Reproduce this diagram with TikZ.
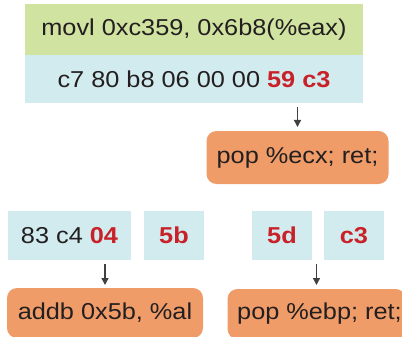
\documentclass[tikz,border=0pt]{standalone}
\usepackage{fontspec}
\setmainfont{Liberation Sans}[FakeStretch=1.1]
\usetikzlibrary{arrows.meta,calc}
\definecolor{boxgreen}{RGB}{209,227,160}
\definecolor{boxblue}{RGB}{210,235,239}
\definecolor{boxorange}{RGB}{240,156,104}
\definecolor{hired}{RGB}{200,34,40}
\definecolor{txt}{RGB}{35,31,32}
\definecolor{arrgray}{RGB}{64,64,64}
\tikzset{
  base/.style={inner sep=0pt, outer sep=0pt, text=txt, font=\fontsize{23}{27}\selectfont},
  greenbox/.style={base, fill=boxgreen},
  bluebox/.style={base, fill=boxblue},
  orangebox/.style={base, fill=boxorange, rounded corners=10pt},
  arr/.style={draw=arrgray, line width=1.4pt, -{Triangle[length=7pt,width=7pt]}},
}
\newcommand{\hl}[1]{\textbf{\textcolor{hired}{#1}}}
\begin{document}
\begin{tikzpicture}[x=1pt,y=-1pt]
\useasboundingbox (0,0) rectangle (402,337);
\node[greenbox, minimum width=338pt, minimum height=51pt] (movl) at (194,29.5) {movl 0xc359, 0x6b8(\%eax)};
\node[bluebox, minimum width=338pt, minimum height=48pt] (hex) at (194,79) {c7 80 b8 06 00 00 \hl{59 c3}};
\node[orangebox, minimum width=182pt, minimum height=53pt] (ecx) at (297.5,157.5) {pop \%ecx; ret;};
\node[bluebox, minimum width=123pt, minimum height=49pt] (b1) at (69.5,235.5) {83 c4 \hl{04}};
\node[bluebox, minimum width=60pt, minimum height=49pt] (b2) at (174,235.5) {\hl{5b}};
\node[bluebox, minimum width=60pt, minimum height=49pt] (b3) at (282,235.5) {\hl{5d}};
\node[bluebox, minimum width=60pt, minimum height=49pt] (b4) at (354,235.5) {\hl{c3}};
\node[orangebox, minimum width=196pt, minimum height=50pt] (addb) at (105,313) {addb 0x5b, \%al};
\node[orangebox, minimum width=178pt, minimum height=50pt] (ebp) at (316.5,314) {\hspace*{6pt}pop \%ebp; ret;};
\draw[arr, shorten <=4pt, shorten >=4pt] (hex.south -| ecx.north) -- (ecx.north);
\draw[arr, shorten <=4pt, shorten >=3pt] (b1.south -| addb.north) -- (addb.north);
\draw[arr, shorten <=4pt, shorten >=4pt] (b3.south -| ebp.north) -- (ebp.north);
\end{tikzpicture}
\end{document}
